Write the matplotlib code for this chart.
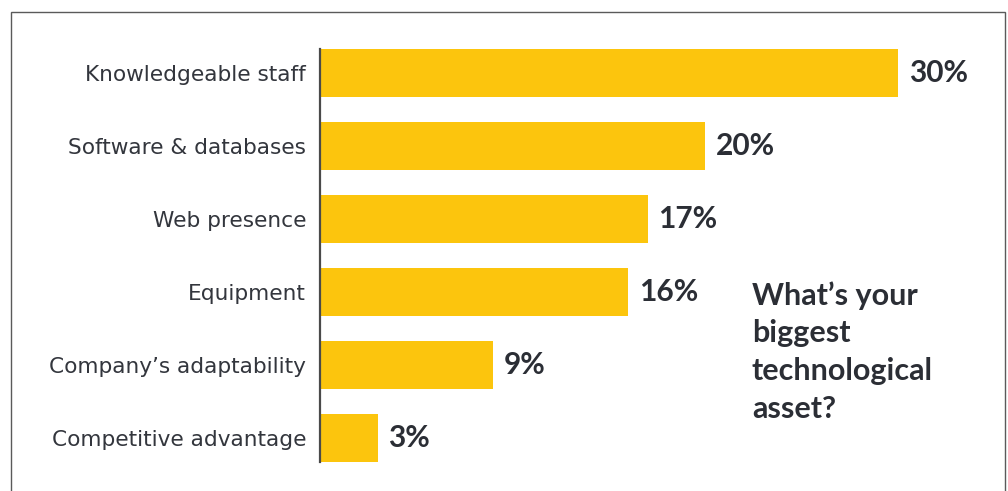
import matplotlib.pyplot as plt
from matplotlib.patches import Rectangle

# Survey answers, top to bottom
categories = ['Knowledgeable staff', 'Software & databases', 'Web presence',
              'Equipment', "Company\u2019s adaptability", 'Competitive advantage']
shares = [30, 20, 17, 16, 9, 3]

question = "What\u2019s your\nbiggest\ntechnological\nasset?"

yellow = '#FCC50D'
ink = '#2b2e35'

plt.rcParams['font.family'] = ['Lato', 'DejaVu Sans']

fig = plt.figure(figsize=(10.08, 4.91), dpi=100)
W, H = 1008, 491

# axes placed in pixels so one percent is ~19.3 px and rows are 73 px apart
left, right = 320, 994.5
top, bottom = 29.2, 481.8
ax = fig.add_axes([left / W, 1 - bottom / H, (right - left) / W, (bottom - top) / H])

pos = range(len(categories))
ax.barh(pos, shares, height=0.66, color=yellow, zorder=2)
ax.set_xlim(0, 35)
ax.set_ylim(5.6, -0.6)

ax.set_yticks(list(pos))
ax.set_yticklabels(categories, fontsize=15.6, color='#33363d',
                   family=['DejaVu Sans'])
ax.tick_params(axis='y', length=0, pad=10)
ax.set_xticks([])

for s in ['top', 'right', 'bottom']:
    ax.spines[s].set_visible(False)
ax.spines['left'].set_color('#4a4a4a')
ax.spines['left'].set_linewidth(1.6)
ax.spines['left'].set_bounds(-0.33, 5.33)
ax.spines['left'].set_zorder(3)

for i, v in enumerate(shares):
    ax.annotate(f'{v}%', xy=(v, i), xytext=(7.5, 0), textcoords='offset points',
                va='center', ha='left', fontsize=21.5, fontweight='bold', color=ink)

fig.text(752 / W, 1 - 281 / H, question, ha='left', va='top', fontsize=22,
         fontweight='bold', color=ink, linespacing=1.42)

# thin frame around the panel
fig.patches.append(Rectangle((11 / W, -0.1), (1005 - 11) / W, 1.1 - 12 / H,
                             transform=fig.transFigure, fill=False,
                             edgecolor='#5a5a5a', linewidth=1.0))

fig.savefig('out.png', dpi=100)
